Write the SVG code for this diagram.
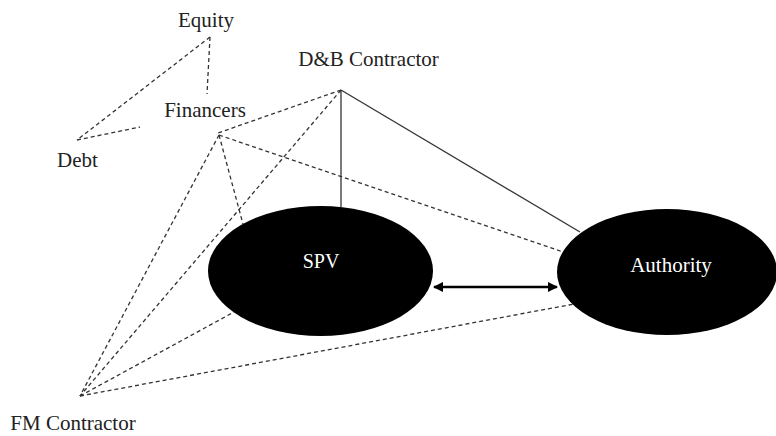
<svg xmlns="http://www.w3.org/2000/svg" width="776" height="436" viewBox="0 0 776 436">
<style>
.lbl{font-family:"Liberation Serif","Times New Roman",serif;font-size:21px;fill:#222;text-anchor:middle}
.in{font-family:"Liberation Serif","Times New Roman",serif;font-size:20px;fill:#fff;text-anchor:middle}
.d{stroke:#333;stroke-width:1.3;stroke-dasharray:4 3;fill:none}
.s{stroke:#333;stroke-width:1.3;fill:none}
</style>
<defs>
<marker id="ah" viewBox="0 0 10 10" refX="9" refY="5" markerWidth="4" markerHeight="4" orient="auto-start-reverse" markerUnits="strokeWidth">
<path d="M0,0 L10,5 L0,10 z" fill="#000"/>
</marker>
</defs>
<g id="connectors">
<line class="d" x1="210" y1="37" x2="207" y2="94"/>
<line class="d" x1="210" y1="37" x2="77" y2="140"/>
<line class="d" x1="77" y1="140" x2="140" y2="127"/>
<line class="d" x1="341" y1="90" x2="218" y2="133"/>
<line class="d" x1="219" y1="135" x2="563" y2="252"/>
<line class="d" x1="219" y1="135" x2="243" y2="224"/>
<line class="d" x1="219" y1="135" x2="80" y2="396"/>
<line class="d" x1="341" y1="90" x2="80" y2="396"/>
<line class="d" x1="80" y1="396" x2="234" y2="312"/>
<line class="d" x1="80" y1="396" x2="574" y2="304"/>
<line class="s" x1="341" y1="90" x2="341" y2="207"/>
<line class="s" x1="341" y1="90" x2="580" y2="232"/>
</g>
<g id="spv">
<ellipse cx="320.5" cy="271" rx="112.5" ry="65" fill="#000"/>
<text class="in" x="321" y="268">SPV</text>
</g>
<g id="authority">
<ellipse cx="667" cy="272" rx="110" ry="63" fill="#000"/>
<text class="in" x="671" y="272" style="font-size:21px">Authority</text>
</g>
<g id="arrow">
<line x1="434" y1="287" x2="557" y2="287" stroke="#000" stroke-width="2.6" marker-start="url(#ah)" marker-end="url(#ah)"/>
</g>
<g id="equity"><text class="lbl" x="206" y="27">Equity</text></g>
<g id="financers"><text class="lbl" x="205" y="117">Financers</text></g>
<g id="debt"><text class="lbl" x="77.5" y="167">Debt</text></g>
<g id="db-contractor"><text class="lbl" x="368.5" y="66">D&amp;B Contractor</text></g>
<g id="fm-contractor"><text class="lbl" x="73" y="430">FM Contractor</text></g>
</svg>
